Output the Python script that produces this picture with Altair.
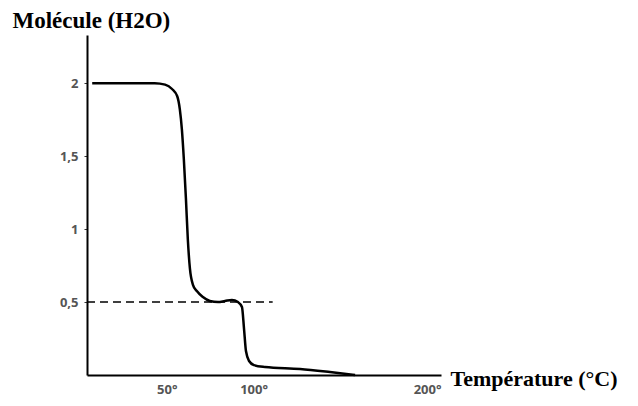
import altair as alt
import pandas as pd

# Curve: temperature (°C) vs water molecules
temp = [7, 29, 43, 49, 53, 56, 57.5, 58.7, 59.8, 61, 62.1, 63.3, 65, 67.3, 70.8,
        74.8, 79.5, 83.5, 87.5, 91, 93.3, 94.5, 95.6, 97.4, 100.2, 106.6, 126.8, 144, 158.5]
water = [2.0, 2.0, 2.0, 1.99, 1.96, 1.91, 1.82, 1.68, 1.48, 1.21, 0.93, 0.73, 0.62, 0.575, 0.534,
         0.507, 0.5, 0.507, 0.514, 0.5, 0.466, 0.315, 0.164, 0.096, 0.068, 0.055, 0.041, 0.02, 0.0]

# Dashed reference level at 0.5 molecule
dash_temp = [4, 111]
dash_value = [0.5, 0.5]

y_ticks = [0.5, 1, 1.5, 2]
y_labels = ["0,5", "1", "1,5", "2"]
x_ticks = [50, 100, 200]
x_labels = ["50°", "100°", "200°"]

curve = pd.DataFrame({"T": temp, "n": water})
dash = pd.DataFrame({"T": dash_temp, "n": dash_value})


def label_expr(vals, labels):
    parts = [f"datum.value == {v} ? '{l}'" for v, l in zip(vals, labels)]
    return " : ".join(parts) + " : ''"


x_scale = alt.Scale(domain=[4, 208], nice=False, zero=False)
y_scale = alt.Scale(domain=[0, 2.33], nice=False)

x_axis = alt.Axis(
    values=x_ticks, labelExpr=label_expr(x_ticks, x_labels), ticks=False,
    labelPadding=8, labelFont="Open Sans", labelFontWeight="bold", labelFontSize=13,
    labelColor="#555555", domainColor="black", domainWidth=2, grid=False,
    title="Température (°C)", titleFont="Liberation Serif", titleFontSize=22,
    titleFontWeight="bold", titleColor="black", titleAnchor="start", titleAlign="left",
    titleBaseline="middle", titleX=363, titleY=3, labelFlush=False,
)
y_axis = alt.Axis(
    values=y_ticks, labelExpr=label_expr(y_ticks, y_labels), tickSize=3,
    tickColor="#333333", labelPadding=6, labelFont="Open Sans", labelFontWeight="bold",
    labelFontSize=13, labelColor="#555555", domainColor="black", domainWidth=2, grid=False,
    title="Molécule (H2O)", titleFont="Liberation Serif", titleFontSize=23,
    titleFontWeight="bold", titleColor="black", titleAngle=0, titleAlign="left",
    titleBaseline="alphabetic", titleX=-75, titleY=-8, labelFlush=False,
)

line = alt.Chart(curve).mark_line(color="black", strokeWidth=2.5, interpolate="monotone").encode(
    x=alt.X("T:Q", scale=x_scale, axis=x_axis),
    y=alt.Y("n:Q", scale=y_scale, axis=y_axis),
)
dashed = alt.Chart(dash).mark_line(color="black", strokeWidth=1.6, strokeDash=[8, 5]).encode(
    x=alt.X("T:Q", scale=x_scale),
    y=alt.Y("n:Q", scale=y_scale),
)

chart = alt.layer(dashed, line).properties(
    width=354, height=340,
    background="white",
    autosize=alt.AutoSizeParams(type="none"),
    padding={"left": 79, "top": 27, "right": 189, "bottom": 23},
).configure_view(stroke="transparent", strokeWidth=0)

chart.save("out.html", embed_options={"renderer": "svg", "actions": False})
